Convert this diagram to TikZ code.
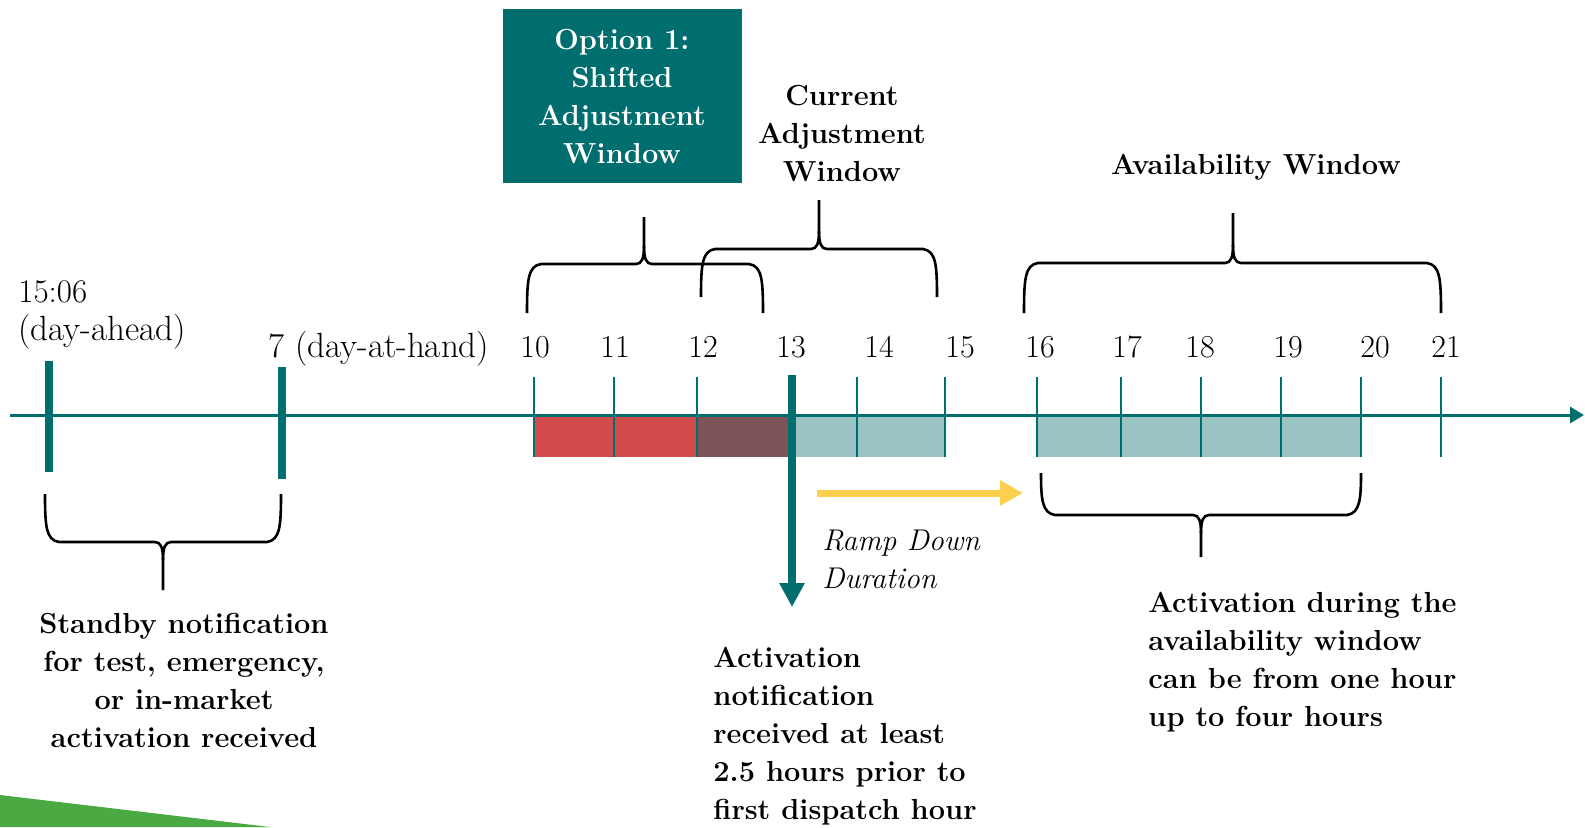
\documentclass[tikz,border=0pt]{standalone}
\usepackage{tikz}
\usetikzlibrary{arrows.meta}

\definecolor{tealdark}{HTML}{006D6F}
\definecolor{teallight}{HTML}{9BC3C4}
\definecolor{redfill}{HTML}{D34B4C}
\definecolor{brownfill}{HTML}{7D5559}
\definecolor{rampyellow}{HTML}{FCD04C}
\definecolor{leafgreen}{HTML}{4AA942}

% #1 left x, #2 right x, #3 tip x, #4 end y, #5 bar y, #6 tip y
\newcommand{\windowbrace}[6]{%
  \pgfmathsetmacro{\brdir}{(#6<#5) ? -1 : 1}%
  \pgfmathsetmacro{\brya}{#5-16*\brdir}%
  \pgfmathsetmacro{\bryb}{#5-2*\brdir}%
  \pgfmathsetmacro{\bryc}{#5+6*\brdir}%
  \pgfmathsetmacro{\bryd}{#5+18*\brdir}%
  \draw[brace] (#1,#4) .. controls (#1,\brya) and (#1+1,\bryb) .. (#1+14,#5) -- (#3-8,#5)
    .. controls (#3-2,#5) and (#3,\bryc) .. (#3,\bryd) -- (#3,#6);
  \draw[brace] (#2,#4) .. controls (#2,\brya) and (#2-1,\bryb) .. (#2-14,#5) -- (#3+8,#5)
    .. controls (#3+2,#5) and (#3,\bryc) .. (#3,\bryd);
}

\tikzset{
  hourlbl/.style={font=\fontsize{16}{19}\selectfont, inner sep=0pt, anchor=base},
  daylbl/.style={font=\fontsize{17.5}{19}\selectfont, inner sep=0pt, anchor=base west},
  boldnote/.style={font=\fontsize{14.5}{19}\selectfont\bfseries, inner sep=0pt},
  rampnote/.style={font=\fontsize{15}{19}\selectfont\itshape, inner sep=0pt, align=left},
  brace/.style={black, line width=1.3pt},
  hourtick/.style={tealdark, line width=1.3pt},
  bigtick/.style={tealdark, line width=3.6pt},
  timeline/.style={tealdark, line width=1.5pt, -{Triangle[length=7pt,width=8pt]}},
}

\begin{document}
\begin{tikzpicture}[x=0.5pt, y=-0.5pt]
  \useasboundingbox (0,0) rectangle (1585,827);

  % corner decoration
  \fill[leafgreen] (0,795) -- (270,827) -- (0,827) -- cycle;

  % hour blocks
  \fill[redfill] (534,415) rectangle (697,457);
  \fill[brownfill] (697,415) rectangle (792,457);
  \fill[teallight] (792,415) rectangle (945,457);
  \fill[teallight] (1037,415) rectangle (1361,457);

  % time axis
  \coordinate (axis start) at (10,415);
  \coordinate (axis end) at (1584,415);
  \draw[timeline] (axis start) -- (axis end);

  \foreach \h/\x/\lx in {10/534/535, 11/614/615, 12/697/703, 14/857/879, 15/945/960,
                         16/1037/1040, 17/1121/1127, 18/1201/1200, 19/1281/1288,
                         20/1361/1375, 21/1441/1446}{
    \draw[hourtick] (\x,377) -- (\x,457);
    \node[hourlbl] (h\h) at (\lx,357) {\h};
  }
  \node[hourlbl] (h13) at (791,357) {13};

  % notification ticks
  \draw[bigtick] (49,361) -- (49,472);
  \draw[bigtick] (282,367) -- (282,479);
  \node[daylbl, font=\fontsize{16.5}{19}\selectfont] (dayahead time) at (18,302) {15:06};
  \node[daylbl] (dayahead) at (18,340) {(day-ahead)};
  \node[daylbl] (dayathand) at (268,357) {7 (day-at-hand)};

  % activation notification arrow
  \coordinate (act top) at (792,375);
  \coordinate (act tip) at (792,607);
  \draw[bigtick, -{Triangle[length=12pt,width=12pt]}] (act top) -- (act tip);

  % ramp down arrow
  \coordinate (ramp start) at (817,493);
  \coordinate (ramp end) at (1023,493);
  \draw[rampyellow, line width=3.5pt, -{Triangle[length=11.5pt,width=12pt]}] (ramp start) -- (ramp end);
  \node[rampnote, anchor=north west] (ramp) at (822,530) {Ramp Down\\Duration};

  % window titles
  \fill[tealdark] (503,9) rectangle (742,183);
  \node[boldnote, white, align=center, anchor=north] (shifted) at (622,29)
    {Option 1:\\Shifted\\Adjustment\\Window};
  \node[boldnote, align=center, anchor=north] (current) at (842,85)
    {Current\\Adjustment\\Window};
  \node[boldnote, anchor=base] (availability) at (1256,174) {Availability Window};

  % braces
  \windowbrace{527}{763}{644}{313}{264}{217}
  \windowbrace{701}{937}{819}{297}{249}{200}
  \windowbrace{1024}{1441}{1233}{313}{263}{213}
  \windowbrace{45}{281}{163}{494}{542}{590}
  \windowbrace{1041}{1361}{1201}{473}{515}{557}

  % explanations
  \node[boldnote, align=center, anchor=north] (standby) at (184,613)
    {Standby notification\\for test, emergency,\\or in-market\\activation received};
  \node[boldnote, align=left, anchor=north west] (activation) at (713,647)
    {Activation\\notification\\received at least\\2.5 hours prior to\\first dispatch hour};
  \node[boldnote, align=left, anchor=north west] (during) at (1148,592)
    {Activation during the\\availability window\\can be from one hour\\up to four hours};
\end{tikzpicture}
\end{document}
